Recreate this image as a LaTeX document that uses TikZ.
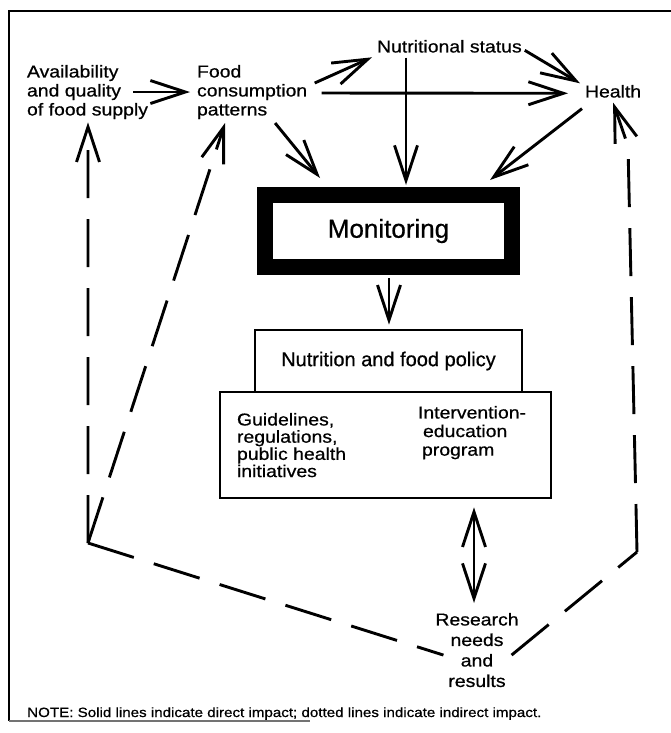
\documentclass[tikz,border=0pt]{standalone}
\usepackage{fontspec}
\setmainfont{Liberation Sans}[FakeStretch=1.13,FakeBold=0.7]
\newfontfamily\plainfont{Liberation Sans}[FakeBold=0.7]
\usetikzlibrary{arrows.meta,calc}
\begin{document}
\begin{tikzpicture}[x=1pt,y=-1pt,
  lbl/.style={inner sep=0pt, outer sep=0pt, font=\fontsize{17.2}{19}\selectfont, align=left, anchor=north west},
  barb/.tip={Straight Barb[length=35pt,width=23pt]},
  arr/.style={line width=2.9pt, -barb},
  indirect/.style={line width=2.9pt, dash pattern=on 48pt off 21pt},
  indarr/.style={indirect, -barb},
  frame/.style={line width=2.6pt},
  box/.style={draw, line width=2.6pt, inner sep=0pt}
]
\useasboundingbox (0,0) rectangle (671,733);
% frame
\draw[frame] (671,11) -- (9,11) -- (9,721);
\draw[line width=1.4pt, black!55] (9,721) -- (310,721);

% text nodes
\node[lbl] (avail) at (27,65) {Availability\\and quality\\of food supply};
\node[lbl] (food) at (197,65) {Food\\consumption\\patterns};
\node[lbl] (nutr) at (377,40) {Nutritional status};
\node[lbl] (health) at (585,85) {Health};

% monitoring
\node[draw, line width=16pt, minimum width=247pt, minimum height=72pt,
      font=\plainfont\fontsize{26}{28}\selectfont] (mon) at (388.5,231) {Monitoring};

% policy boxes
\node[box, minimum width=331pt, minimum height=106pt] (lower) at (385.5,445) {};
\node[box, minimum width=267pt, minimum height=62pt,
      font=\plainfont\fontsize{20}{22}\selectfont] (policy) at (388.5,361) {Nutrition and food policy};
\node[lbl, font=\fontsize{17.2}{17.2}\selectfont] (guide) at (237,413) {Guidelines,\\regulations,\\public health\\initiatives};
\node[lbl, font=\fontsize{17.2}{18.6}\selectfont] (interv) at (418,406) {Intervention-\\\hspace{5pt}education\\\hspace{4pt}program};

% research
\node[lbl, anchor=north, align=center, font=\fontsize{17.2}{20.5}\selectfont] (research) at (477,613) {Research\\needs\\and\\results};

% note
\node[inner sep=0pt, anchor=base west, font=\fontsize{13.4}{15}\selectfont] (note) at (27,717)
  {NOTE: Solid lines indicate direct impact; dotted lines indicate indirect impact.};

% corners of the dashed loop
\coordinate (lc) at (88,543);
\coordinate (rc) at (637,552);
\coordinate (rbend) at (628,146);

% solid connectors
\draw[arr] ($(avail.east)+(-15,0)$) -- ($(food.west)+(-7,0)$);
\draw[arr] ($(food.east)+(7.5,-9)$) -- ($(nutr.west)+(-5,11)$);
\draw[arr] ($(food.east)+(14.5,1)$) -- ($(health.west)+(-17,2)$);
\draw[arr] ($(nutr.east)+(3,4)$) -- ($(health.west)+(-5,-8)$);
\draw[arr] ($(nutr.south west)+(29,5)$) -- ($(mon.north)+(17.5,-2)$);
\draw[arr] ($(health.south west)+(-3,11)$) -- ($(mon.north east)+(-30,-7)$);
\draw[arr] ($(food.south)+(23,4)$) -- ($(mon.north west)+(63,-9)$);
\draw[arr] ($(mon.south)+(0.5,3)$) -- ($(policy.north)+(0.5,-4)$);
\draw[line width=2.9pt, barb-barb] ($(lower.south)+(88.5,8)$) -- ($(research.north)+(-3,-10)$);

% dashed connectors
\draw[indarr] (lc) -- ($(avail.south)+(0.5,3.3)$);
\draw[indarr] (lc) -- ($(food.south west)+(28,4)$);
\draw[indirect] (lc) -- ($(research.west)+(8,5)$);
\draw[indirect] ($(research.east)+(-7,5)$) -- (rc);
\draw[indarr] (rc) -- (rbend) -- ($(health.south)+(0,5)$);
\end{tikzpicture}
\end{document}
